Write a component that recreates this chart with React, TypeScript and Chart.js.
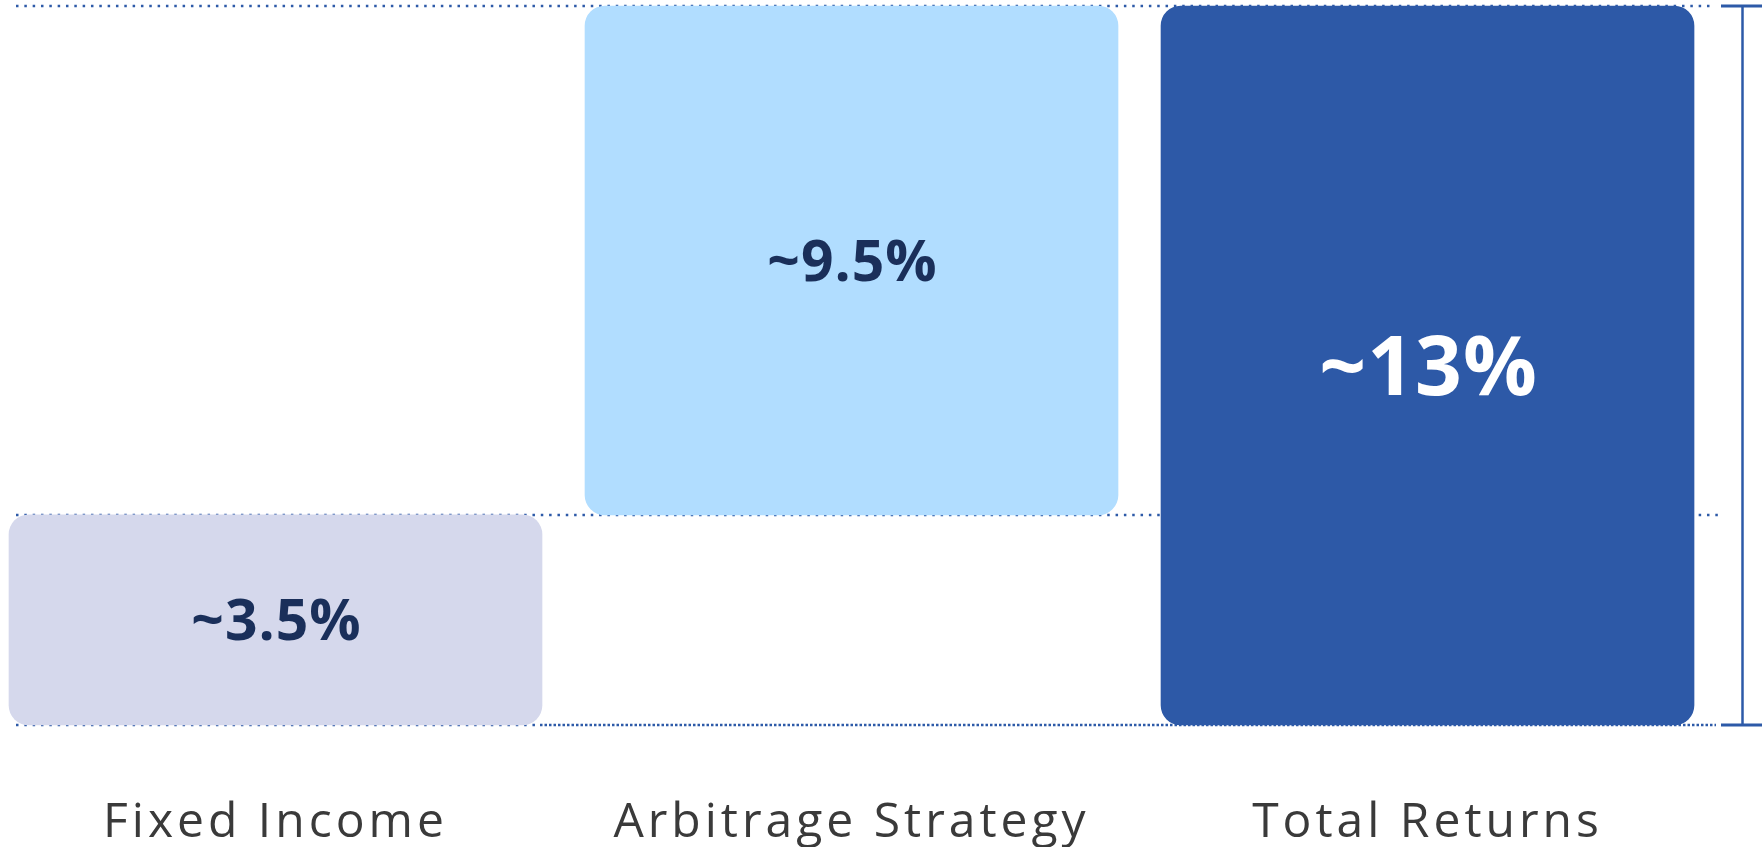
import React, { useEffect, useRef } from 'react';
import { Chart, registerables } from 'chart.js';

Chart.register(...registerables);

// ---- data ----
const categories = ['Fixed Income', 'Arbitrage Strategy', 'Total Returns'];
const barStarts = [0, 3.8, 0];
const barEnds = [3.8, 13, 13];
const valueLabels = ['~3.5%', '~9.5%', '~13%'];
const guideLevels = [13, 3.8, 0];

// ---- styles ----
const barColors = ['#d5d8ec', '#b1ddff', '#2d59a7'];
const valueLabelColors = ['#1a2f5a', '#1a2f5a', '#ffffff'];
const valueLabelSizes = [57, 57, 82];
const lineColor = '#2d5aa8';
const FONT = "'Open Sans', 'DejaVu Sans', sans-serif";

const overlayPlugin = {
  id: 'overlay',
  beforeDraw(chart: any) {
    chart.ctx.letterSpacing = '4px';
  },
  beforeDatasetsDraw(chart: any) {
    const ctx = chart.ctx as CanvasRenderingContext2D;
    const y = chart.scales.y;
    const left = 16;
    const right = 1720;
    ctx.save();
    ctx.strokeStyle = lineColor;
    ctx.lineWidth = 2.5;
    ctx.lineCap = 'butt';
    guideLevels.forEach((lvl) => {
      const py = Math.round(y.getPixelForValue(lvl));
      if (lvl === 0) {
        ctx.setLineDash([2.5, 5.83]);
        ctx.beginPath();
        ctx.moveTo(left, py);
        ctx.lineTo(540, py);
        ctx.stroke();
        ctx.setLineDash([2.5, 2]);
        ctx.beginPath();
        ctx.moveTo(540, py);
        ctx.lineTo(right - 4, py);
        ctx.stroke();
      } else {
        ctx.setLineDash([2.5, 5.83]);
        ctx.beginPath();
        ctx.moveTo(left, py);
        ctx.lineTo(lvl === 13 ? right - 8 : right + 2, py);
        ctx.stroke();
      }
    });
    ctx.restore();
  },
  afterDatasetsDraw(chart: any) {
    const ctx = chart.ctx as CanvasRenderingContext2D;
    const y = chart.scales.y;
    const meta = chart.getDatasetMeta(0);
    ctx.save();
    // value labels
    meta.data.forEach((bar: any, i: number) => {
      const size = valueLabelSizes[i];
      const cy = (bar.y + bar.base) / 2;
      ctx.font = `700 ${size}px ${FONT}`;
      (ctx as any).letterSpacing = '1px';
      ctx.fillStyle = valueLabelColors[i];
      ctx.textAlign = 'center';
      ctx.textBaseline = 'alphabetic';
      ctx.fillText(valueLabels[i], bar.x + 1, cy + (size * 0.714) / 2);
    });
    // bracket
    const top = y.getPixelForValue(guideLevels[0]);
    const bottom = y.getPixelForValue(0);
    ctx.strokeStyle = lineColor;
    ctx.setLineDash([]);
    ctx.lineWidth = 2.5;
    ctx.beginPath();
    ctx.moveTo(1742.5, top);
    ctx.lineTo(1742.5, bottom);
    ctx.stroke();
    ctx.lineWidth = 3;
    ctx.beginPath();
    ctx.moveTo(1721, top);
    ctx.lineTo(1762, top);
    ctx.moveTo(1721, bottom);
    ctx.lineTo(1762, bottom);
    ctx.stroke();
    ctx.restore();
  },
  afterDraw(chart: any) {
    chart.ctx.letterSpacing = '0px';
  },
};

export default function App() {
  const ref = useRef<HTMLCanvasElement>(null);
  useEffect(() => {
    if (!ref.current) return;
    const chart = new Chart(ref.current, {
      type: 'bar',
      data: {
        datasets: [
          {
            data: categories.map((_, i) => ({ x: i, y: [barStarts[i], barEnds[i]] })) as any,
            backgroundColor: barColors,
            borderRadius: 20,
            borderSkipped: false,
            barThickness: 533,
            clip: false as any,
          },
        ],
      },
      options: {
        responsive: false,
        animation: false,
        layout: { padding: { top: 6, left: 0, right: 0, bottom: 0 } },
        plugins: { legend: { display: false }, tooltip: { enabled: false } },
        scales: {
          x: {
            type: 'linear',
            offset: false,
            min: -0.4783,
            max: 2.5807,
            grid: { display: false },
            border: { display: false },
            afterBuildTicks: (axis: any) => {
              axis.ticks = categories.map((_, i) => ({ value: i }));
            },
            afterFit: (axis: any) => {
              axis.height = 122;
            },
            ticks: {
              autoSkip: false,
              maxRotation: 0,
              minRotation: 0,
              padding: 62,
              color: '#3a3a3a',
              font: { family: FONT, size: 48, weight: 'normal' as any },
              callback: (v: any) => categories[Math.round(Number(v))] ?? '',
            },
          },
          y: { min: 0, max: 13, display: false },
        },
      },
      plugins: [overlayPlugin],
    });
    return () => chart.destroy();
  }, []);
  return (
    <div style={{ position: 'fixed', left: 0, top: 0, width: 1762, height: 847, background: '#fff' }}>
      <canvas ref={ref} width={1762} height={847} style={{ display: 'block' }} />
    </div>
  );
}
